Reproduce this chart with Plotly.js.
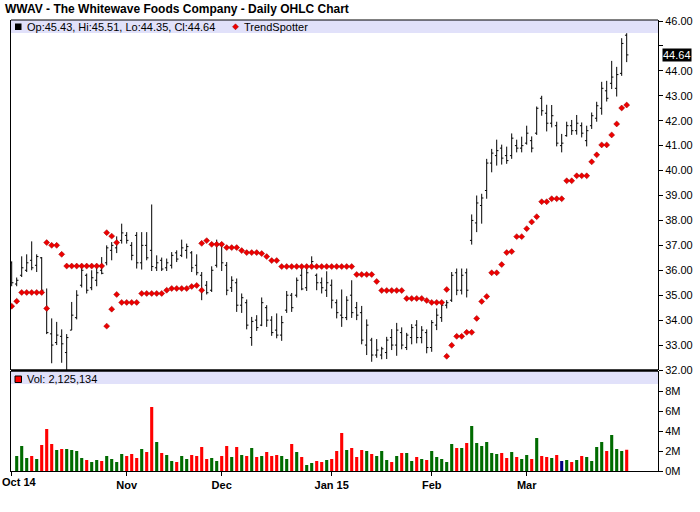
<!DOCTYPE html>
<html>
<head>
<meta charset="utf-8">
<script src="https://cdn.plot.ly/plotly-3.0.1.min.js"></script>
<style>html,body{margin:0;padding:0;background:#fff;}#chart{width:700px;height:512px;}</style>
</head>
<body>
<div id="chart"></div>
<script>
// ---- data ----
const openP = [36.3,35.45,35.8,36.0,36.4,36.2,36.5,34.5,33.45,33.1,
33.35,32.7,33.6,34.1,35.4,35.8,35.3,35.6,36.0,36.3,
36.8,36.9,37.2,37.4,37.0,37.4,36.3,37.0,36.8,36.1,
36.4,36.1,36.2,36.7,36.6,36.8,36.7,36.2,35.8,35.4,
35.2,36.2,37.0,36.2,35.3,35.5,34.6,34.7,33.3,34.0,
33.8,34.5,34.0,33.6,33.4,34.4,35.0,35.0,35.8,35.3,
36.2,35.8,35.5,35.2,35.4,34.7,34.2,34.1,35.0,34.5,
34.3,33.0,33.2,32.6,32.6,32.7,33.3,33.0,33.5,32.9,
33.3,33.8,33.3,33.5,32.9,33.8,34.1,34.6,34.8,35.9,
35.2,35.9,37.2,37.9,38.6,39.2,40.3,40.6,40.9,40.6,
40.6,41.0,40.9,41.1,41.2,41.5,42.9,42.3,41.9,41.8,
41.0,41.4,41.8,41.6,41.8,41.2,41.8,42.1,42.5,43.2,
43.5,43.3,43.9,45.43];
const highP = [36.36,35.71,36.56,36.64,37.16,36.64,36.53,35.27,34.07,33.93,
33.63,33.44,34.73,35.2,36.13,35.87,36.0,36.2,36.53,37.0,
37.13,37.36,37.87,37.53,37.13,37.53,37.53,37.53,38.64,36.6,
36.51,36.47,36.73,36.8,37.23,37.07,36.77,36.64,35.93,35.57,
36.16,37.23,37.07,36.33,35.76,35.67,35.07,34.83,34.13,34.2,
34.91,34.6,34.16,34.27,34.17,35.17,35.09,35.71,36.16,36.24,
36.56,35.87,35.71,35.96,35.63,34.83,35.23,34.96,35.6,34.73,
34.57,34.03,33.29,33.24,32.93,33.33,33.64,33.89,33.71,33.49,
33.84,34.0,33.76,33.63,34.0,34.47,34.76,34.8,35.93,36.07,
36.07,36.07,38.24,39.0,39.07,40.47,40.87,41.24,41.04,40.96,
41.49,41.24,41.36,41.8,41.37,42.57,43.0,42.64,42.63,41.96,
41.47,41.96,42.03,42.23,41.93,41.8,42.33,42.76,43.56,43.6,
44.4,44.16,45.31,45.51];
const lowP = [35.36,35.36,35.73,35.93,36.0,35.93,35.07,33.44,32.27,33.0,
32.29,32.0,33.6,34.03,35.31,35.07,35.2,35.36,35.84,36.2,
36.4,36.69,37.07,37.07,36.4,36.07,36.03,36.4,35.97,35.97,
35.97,35.97,36.07,36.33,36.53,36.47,35.93,35.8,34.8,35.03,
35.13,36.11,35.97,35.0,35.13,34.33,34.29,33.63,32.97,33.57,
33.76,33.73,33.37,33.27,33.17,34.29,34.33,34.91,35.2,35.17,
36.11,35.2,35.07,34.93,34.47,34.07,33.73,34.0,34.09,34.0,
33.03,32.6,32.33,32.49,32.43,32.44,32.8,32.57,32.83,32.8,
33.03,33.07,33.07,32.67,32.73,33.6,33.93,34.47,34.73,35.0,
35.03,34.91,37.03,37.53,37.87,38.87,39.93,40.2,40.24,40.27,
40.47,40.73,40.73,41.04,40.73,41.43,42.2,41.57,41.73,40.97,
40.73,41.36,41.43,41.44,41.33,40.97,41.67,41.96,42.24,42.77,
43.27,42.97,43.8,44.35];
const closeP = [35.5,35.6,36.1,36.3,36.1,36.55,35.2,33.5,33.0,33.4,
33.05,33.3,34.2,35.0,36.0,35.2,35.7,35.9,35.88,36.9,
37.0,37.1,37.5,37.2,36.6,36.3,37.0,36.5,36.15,36.3,
36.05,36.3,36.6,36.45,36.9,36.95,36.1,35.9,35.2,35.1,
36.0,37.0,36.3,35.2,35.6,34.6,34.9,33.8,33.95,33.7,
34.7,34.0,33.5,33.4,33.9,35.0,34.5,35.6,35.25,35.9,
36.35,35.5,35.3,35.5,34.8,34.3,34.1,34.8,34.3,34.2,
33.2,33.8,32.6,32.8,32.85,33.2,33.0,33.6,33.0,33.4,
33.7,33.3,33.6,32.9,33.9,34.2,34.6,34.7,35.8,35.2,
35.8,35.2,38.0,38.7,38.9,40.3,40.7,40.8,40.5,40.4,
41.3,40.9,41.0,41.5,40.9,42.5,42.4,41.9,42.2,41.1,
41.1,41.8,41.6,41.9,41.5,41.6,42.2,42.6,43.3,42.9,
43.75,43.85,45.1,44.64];
// volume in millions of shares
const volumeM = [null,1.5,2.5,1.3,1.5,1.2,2.6,4.2,2.7,2.1,
2.2,2.2,2.1,2.0,1.3,1.1,0.9,1.1,1.0,1.5,
1.2,0.9,1.7,1.5,1.7,1.3,2.2,1.9,6.4,2.9,
1.8,1.6,1.0,0.9,1.5,1.2,1.6,1.5,2.4,1.2,
1.3,1.0,1.5,2.5,1.4,2.4,1.6,1.5,2.3,1.4,
1.5,1.9,1.5,1.6,1.5,1.2,2.7,1.9,1.4,0.6,
0.8,1.0,0.9,1.1,1.2,2.0,3.8,2.1,2.3,1.4,
2.1,2.0,1.7,1.5,2.0,1.1,0.9,1.5,1.8,1.8,
1.0,1.4,1.2,1.1,2.0,1.4,1.2,0.9,2.7,2.3,
2.3,2.8,4.5,2.8,2.5,2.9,1.8,1.7,1.8,1.3,
1.9,1.4,1.2,1.6,1.2,3.3,1.5,1.4,1.3,1.6,
1.0,1.1,0.9,1.1,1.5,1.4,1.0,2.4,2.9,2.0,
3.6,2.2,2.0,2.125134];
// TrendSpotter stops: segments, each starting at a trading-day index
const trendStarts = [0, 7, 19, 38, 87];
const trendSeg1 = [34.56,34.76,35.11,35.11,35.11,35.11,35.11,34.47];
const trendSeg2 = [37.11,37.00,37.00,36.64,36.17,36.17,36.17,36.17,36.17,36.17,36.17,36.17,37.51,37.37,37.11];
const trendSeg3 = [33.76,34.44,35.03,34.71,34.71,34.71,34.71,35.07,35.07,35.07,35.07,35.07,35.20,35.27,35.27,35.27,35.27,35.35,35.39,35.20];
const trendSeg4 = [37.08,37.19,37.04,37.04,37.04,36.91,36.91,36.91,36.79,36.71,36.71,36.71,36.67,36.55,36.39,36.39,
36.15,36.15,36.15,36.15,36.15,36.15,36.15,36.15,36.15,36.15,36.15,36.15,36.15,36.15,36.15,
35.83,35.83,35.83,35.83,35.55,35.19,35.19,35.19,35.19,35.19,34.87,34.87,34.87,34.87,34.79,34.71,34.71,34.71,35.23];
const trendSeg5 = [32.55,32.99,33.35,33.35,33.51,33.51,34.07,34.75,34.95,35.90,35.90,36.23,36.71,36.75,37.35,37.35,
37.67,37.94,38.15,38.75,38.75,38.87,38.87,38.87,39.59,39.59,39.79,39.79,39.79,40.35,40.63,41.03,41.03,41.43,41.87,42.51,42.63];
const trendSegs = [trendSeg1, trendSeg2, trendSeg3, trendSeg4, trendSeg5];

const monthTickDays = [0, 23, 42, 64, 84, 103];
const monthTickText = ['Oct 14', 'Nov', 'Dec', 'Jan 15', 'Feb', 'Mar'];
const priceTicks = [32,33,34,35,36,37,38,39,40,41,42,43,44,45,46];
const priceTickText = ['32.00','33.00','34.00','35.00','36.00','37.00','38.00','39.00','40.00','41.00','42.00','43.00','44.00','','46.00'];
const volTicks = [0, 2, 4, 6, 8];
const volTickText = ['0M','2M','4M','6M','8M'];
const titleText = 'WWAV - The Whitewave Foods Company - Daily OHLC Chart';

// ---- build ----
const days = openP.map((_, i) => i);
const volColors = closeP.map((c, i) => {
  if (i === 0) return '#006b00';
  if (c > closeP[i-1]) return '#006b00';
  if (c < closeP[i-1]) return '#ff0000';
  return '#000080';
});
const tsX = [], tsY = [];
trendSegs.forEach((seg, s) => seg.forEach((v, k) => { tsX.push(trendStarts[s] + k); tsY.push(v); }));

const last = openP.length - 1;
const legendText = 'Op:' + openP[last].toFixed(2) + ', Hi:' + highP[last].toFixed(2) +
  ', Lo:' + lowP[last].toFixed(2) + ', Cl:' + closeP[last].toFixed(2);
const volText = 'Vol: ' + Math.round(volumeM[last] * 1e6).toLocaleString('en-US');

// the first month label would run past the left edge: draw it left-aligned instead
const axisTickText = monthTickText.map((t, k) => k === 0 ? '' : t);

// pixel helpers for layout decorations (plot area: x 11..658, y 20..471)
const L = 11, R = 658, T = 20, B = 471;
const px = v => (v - L) / (R - L);
const py = v => (B - v) / (B - T);
const FONT = 'Liberation Sans, Arial, sans-serif';

const traces = [
  {
    type: 'ohlc', x: days, open: openP, high: highP, low: lowP, close: closeP,
    xaxis: 'x', yaxis: 'y',
    increasing: {line: {color: '#000000', width: 1}},
    decreasing: {line: {color: '#000000', width: 1}},
    tickwidth: 0.35, hoverinfo: 'skip', showlegend: false
  },
  {
    type: 'scatter', mode: 'markers', x: tsX, y: tsY, xaxis: 'x', yaxis: 'y',
    marker: {symbol: 'diamond', size: 4.6, color: '#ee0000', line: {color: '#990000', width: 0.5}},
    hoverinfo: 'skip', showlegend: false
  },
  {
    type: 'bar', x: days, y: volumeM, xaxis: 'x', yaxis: 'y2', width: 0.62,
    marker: {color: volColors, line: {width: 0}}, hoverinfo: 'skip', showlegend: false
  }
];

const sepY = py(370.5);
const dia = (cx, cy, r) => `M ${px(cx-r)} ${py(cy)} L ${px(cx)} ${py(cy-r)} L ${px(cx+r)} ${py(cy)} L ${px(cx)} ${py(cy+r)} Z`;

const layout = {
  width: 700, height: 512,
  paper_bgcolor: '#ffffff', plot_bgcolor: '#ffffff',
  margin: {l: L, r: 700 - R, t: T, b: 512 - B, pad: 0},
  font: {family: FONT, size: 11, color: '#000000'},
  showlegend: false,
  title: {
    text: '<b>' + titleText + '</b>',
    font: {family: FONT, size: 12, color: '#000000'},
    xref: 'container', yref: 'container', x: 5/700, xanchor: 'left', y: 1 - 9/512, yanchor: 'middle'
  },
  xaxis: {
    domain: [0, 1], anchor: 'y2', range: [-0.14, 129.26],
    tickmode: 'array', tickvals: monthTickDays, ticktext: axisTickText,
    ticks: 'outside', ticklen: 4, tickcolor: '#000', tickwidth: 1,
    tickfont: {family: FONT, size: 11, color: '#000', weight: 'bold'},
    showline: true, linecolor: '#000', linewidth: 1,
    showgrid: false, zeroline: false, rangeslider: {visible: false}, fixedrange: true
  },
  yaxis: {
    domain: [py(370), 1], anchor: 'x', side: 'right', range: [32, 46.04],
    tickmode: 'array', tickvals: priceTicks, ticktext: priceTickText,
    ticks: 'outside', ticklen: 4, tickcolor: '#000', tickwidth: 1,
    tickfont: {family: FONT, size: 11, color: '#000'},
    showline: true, mirror: true, linecolor: '#000', linewidth: 1,
    showgrid: false, zeroline: false, fixedrange: true
  },
  yaxis2: {
    domain: [0, py(371)], anchor: 'x', side: 'right', range: [0, 10],
    tickmode: 'array', tickvals: volTicks, ticktext: volTickText,
    ticks: 'outside', ticklen: 4, tickcolor: '#000', tickwidth: 1,
    tickfont: {family: FONT, size: 11, color: '#000'},
    showline: true, mirror: true, linecolor: '#000', linewidth: 1,
    showgrid: false, zeroline: false, fixedrange: true
  },
  shapes: [
    {type: 'rect', xref: 'paper', yref: 'paper', x0: 0, x1: 1, y0: py(33), y1: 1,
     fillcolor: '#e1e1fa', line: {width: 0}, layer: 'below'},
    {type: 'rect', xref: 'paper', yref: 'paper', x0: 0, x1: 1, y0: py(384), y1: py(371),
     fillcolor: '#e1e1fa', line: {width: 0}, layer: 'below'},
    {type: 'line', xref: 'paper', yref: 'paper', x0: 0, x1: 1, y0: 1, y1: 1, line: {color: '#000', width: 1}},
    {type: 'line', xref: 'paper', yref: 'paper', x0: 0, x1: 1, y0: sepY, y1: sepY, line: {color: '#000', width: 2.5}},
    {type: 'rect', xref: 'paper', yref: 'paper', x0: px(15), x1: px(21.5), y0: py(30), y1: py(23.5),
     fillcolor: '#000', line: {width: 0}},
    {type: 'rect', xref: 'paper', yref: 'paper', x0: px(15), x1: px(21.5), y0: py(382.5), y1: py(376),
     fillcolor: '#ff0000', line: {color: '#000', width: 1}},
    {type: 'path', xref: 'paper', yref: 'paper', path: dia(235.5, 26.8, 3),
     fillcolor: '#ee0000', line: {color: '#990000', width: 0.5}}
  ],
  annotations: [
    {xref: 'paper', yref: 'paper', x: px(24.5), y: py(26.8), xanchor: 'left', yanchor: 'middle',
     text: legendText, showarrow: false, font: {family: FONT, size: 11, color: '#000'}},
    {xref: 'paper', yref: 'paper', x: px(241.5), y: py(26.8), xanchor: 'left', yanchor: 'middle',
     text: 'TrendSpotter', showarrow: false, font: {family: FONT, size: 11, color: '#000'}},
    {xref: 'paper', yref: 'paper', x: px(24.5), y: py(379.3), xanchor: 'left', yanchor: 'middle',
     text: volText, showarrow: false, font: {family: FONT, size: 11, color: '#000'}},
    {xref: 'paper', yref: 'y', x: px(661.5), y: closeP[last], xanchor: 'left', yanchor: 'middle',
     text: closeP[last].toFixed(2), showarrow: false, bgcolor: '#000000', borderpad: 0,
     font: {family: FONT, size: 11, color: '#ffffff'}},
    {xref: 'paper', yref: 'paper', x: px(1), y: py(482), xanchor: 'left', yanchor: 'middle',
     text: monthTickText[0], showarrow: false, borderpad: 0,
     font: {family: FONT, size: 11, color: '#000', weight: 'bold'}}
  ]
};

Plotly.newPlot('chart', traces, layout, {staticPlot: true, displayModeBar: false});
</script>
</body>
</html>
